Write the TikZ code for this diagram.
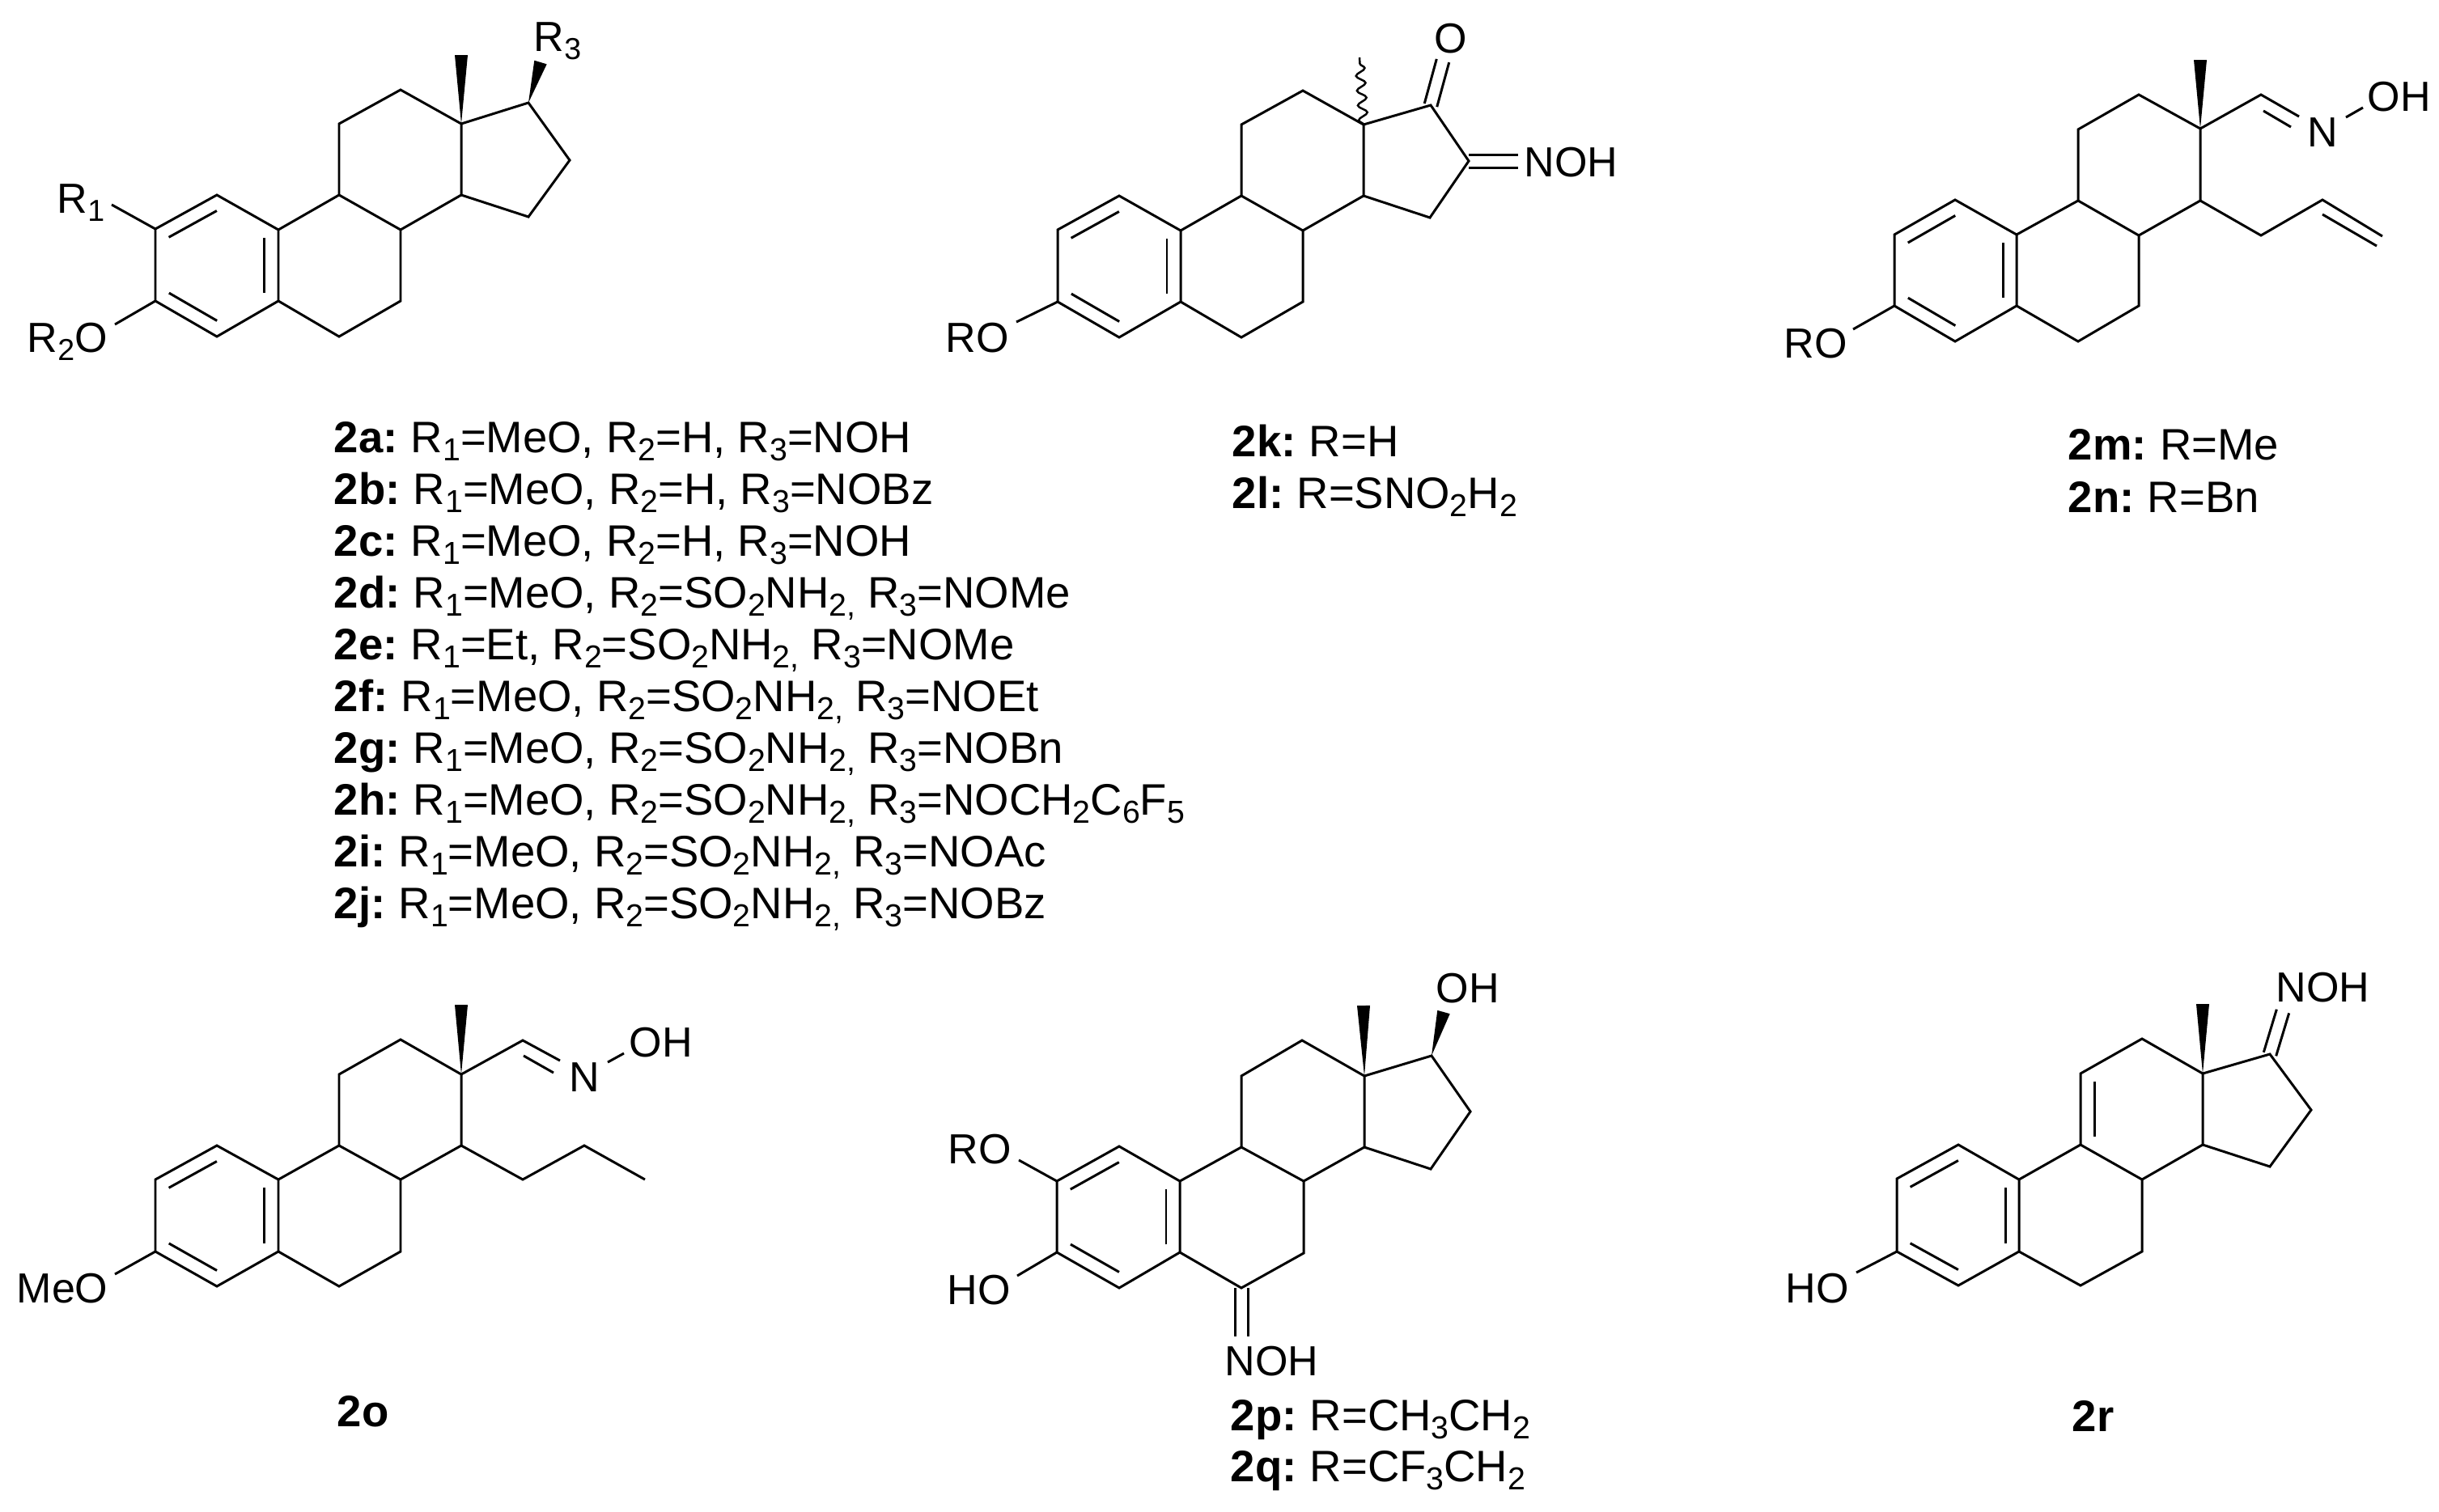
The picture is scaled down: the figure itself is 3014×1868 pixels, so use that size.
\documentclass[tikz,border=0pt]{standalone}
\usepackage{fontspec}
\usetikzlibrary{calc,decorations.pathmorphing}
\setmainfont{Liberation Sans}
\tikzset{
  bond/.style={line width=0.85pt,line join=miter},
  wavybond/.style={line width=0.7pt,decorate,decoration={snake,amplitude=1.6pt,segment length=5.2pt}},
  atom/.style={anchor=base west,inner sep=0pt,font=\fontsize{14.8}{17}\selectfont},
  caption/.style={anchor=base west,inner sep=0pt,font=\fontsize{15.5}{18}\selectfont},
}
\newcommand{\sbs}[1]{\raisebox{-0.2em}{\fontsize{\the\dimexpr.72em\relax}{12}\selectfont #1}}
\newcommand{\cmpd}[1]{\textbf{#1:}\hspace{0.3em}}
% inner line of a double bond, on the left of a->b
\newcommand{\innerbond}[2]{\draw[bond] ($(#1)!.11!(#2)!.17cm!90:(#2)$) -- ($(#2)!.11!(#1)!.17cm!-90:(#1)$);}
% double bond going out of a ring
\newcommand{\exobond}[2]{\draw[bond] ($(#1)!.08cm!90:(#2)$) -- ($(#2)!.08cm!-90:(#1)$);
  \draw[bond] ($(#1)!.08cm!-90:(#2)$) -- ($(#2)!.08cm!90:(#1)$);}
\newcommand{\wedgebond}[2]{\fill[black] (#1) -- ($(#2)!.08cm!90:(#1)$) -- ($(#2)!.08cm!-90:(#1)$) -- cycle;}
% rings A, B, C
\newcommand{\skeleton}[1]{
  \draw[bond] (#1c1) -- (#1c2) -- (#1c3) -- (#1c4) -- (#1c5) -- (#1c10) -- cycle;
  \draw[bond] (#1c5) -- (#1c6) -- (#1c7) -- (#1c8) -- (#1c9) -- (#1c10);
  \draw[bond] (#1c9) -- (#1c11) -- (#1c12) -- (#1c13) -- (#1c14) -- (#1c8);
  \innerbond{#1c1}{#1c2}
  \innerbond{#1c3}{#1c4}
  \innerbond{#1c5}{#1c10}
}

\begin{document}
\begin{tikzpicture}[x=0.01cm,y=-0.01cm]
\useasboundingbox (0,0) rectangle (3014,1868);

%compounds 2a-2j
\coordinate (ac1) at (268,241); \coordinate (ac2) at (192,283); \coordinate (ac3) at (192,372);
\coordinate (ac4) at (268,416); \coordinate (ac5) at (344,372); \coordinate (ac6) at (419,416);
\coordinate (ac7) at (495,372); \coordinate (ac8) at (495,284); \coordinate (ac9) at (419,241);
\coordinate (ac10) at (344,284); \coordinate (ac11) at (419,153); \coordinate (ac12) at (495,111);
\coordinate (ac13) at (570,153); \coordinate (ac14) at (570,241); \coordinate (ac15) at (653,268);
\coordinate (ac16) at (704,198); \coordinate (ac17) at (653,127);
\coordinate (ame) at (570,68); \coordinate (awr) at (668,77);
\coordinate (ar1) at (138,253); \coordinate (ao) at (142,401);
\skeleton{a}
\draw[bond] (ac13) -- (ac17) -- (ac16) -- (ac15) -- (ac14);
\wedgebond{ac13}{ame}
\wedgebond{ac17}{awr}
\draw[bond] (ac2) -- (ar1);
\draw[bond] (ac3) -- (ao);
\node[atom] (alabr1) at (70,263) {R\sbs{1}};
\node[atom] (alabr2) at (33,435) {R\sbs{2}O};
\node[atom] (alabr3) at (659,63) {R\sbs{3}};

%compounds 2k, 2l
\coordinate (kc1) at (1383,242); \coordinate (kc2) at (1307,284); \coordinate (kc3) at (1307,373);
\coordinate (kc4) at (1383,417); \coordinate (kc5) at (1459,373); \coordinate (kc6) at (1534,417);
\coordinate (kc7) at (1610,373); \coordinate (kc8) at (1610,285); \coordinate (kc9) at (1534,242);
\coordinate (kc10) at (1459,285); \coordinate (kc11) at (1534,154); \coordinate (kc12) at (1610,112);
\coordinate (kc13) at (1685,154); \coordinate (kc14) at (1685,242); \coordinate (kc15) at (1767,269);
\coordinate (kc16) at (1815,199); \coordinate (kc17) at (1768,130);
\coordinate (kme) at (1680,71); \coordinate (kco) at (1783,75); \coordinate (kcn) at (1876,199);
\coordinate (ko) at (1256,398);
\skeleton{k}
\draw[bond] (kc13) -- (kc17) -- (kc16) -- (kc15) -- (kc14);
\draw[wavybond] (kc13) -- (kme);
\exobond{kc17}{kco}
\exobond{kc16}{kcn}
\draw[bond] (kc3) -- (ko);
\node[atom] (klabo) at (1772,65) {O};
\node[atom] (klabn) at (1883,218) {NOH};
\node[atom] (klabr) at (1168,435) {RO};

%compounds 2m, 2n
\coordinate (mc1) at (2416,247); \coordinate (mc2) at (2341,290); \coordinate (mc3) at (2341,378);
\coordinate (mc4) at (2416,422); \coordinate (mc5) at (2492,378); \coordinate (mc6) at (2568,422);
\coordinate (mc7) at (2643,378); \coordinate (mc8) at (2643,291); \coordinate (mc9) at (2568,248);
\coordinate (mc10) at (2492,290); \coordinate (mc11) at (2568,160); \coordinate (mc12) at (2643,117);
\coordinate (mc13) at (2719,159); \coordinate (mc14) at (2719,248);
\coordinate (mme) at (2719,74); \coordinate (mcn) at (2794,117); \coordinate (mn) at (2841,144);
\coordinate (mina) at (2797,137); \coordinate (minb) at (2831,157);
\coordinate (mno) at (2899,145); \coordinate (moh) at (2920,133);
\coordinate (mal1) at (2794,291); \coordinate (mal2) at (2870,247); \coordinate (mal3) at (2944,292);
\coordinate (mala) at (2870,265); \coordinate (malb) at (2937,304);
\coordinate (mo) at (2290,407);
\skeleton{m}
\wedgebond{mc13}{mme}
\draw[bond] (mc13) -- (mcn) -- (mn);
\draw[bond] (mina) -- (minb);
\draw[bond] (mno) -- (moh);
\draw[bond] (mc14) -- (mal1) -- (mal2) -- (mal3);
\draw[bond] (mala) -- (malb);
\draw[bond] (mc3) -- (mo);
\node[atom] (mlabn) at (2851,181) {N};
\node[atom] (mlabo) at (2925,137) {OH};
\node[atom] (mlabr) at (2204,442) {RO};

%compound 2o
\coordinate (oc1) at (268,1416); \coordinate (oc2) at (192,1458); \coordinate (oc3) at (192,1547);
\coordinate (oc4) at (268,1590); \coordinate (oc5) at (344,1547); \coordinate (oc6) at (419,1590);
\coordinate (oc7) at (495,1547); \coordinate (oc8) at (495,1458); \coordinate (oc9) at (419,1416);
\coordinate (oc10) at (344,1458); \coordinate (oc11) at (419,1328); \coordinate (oc12) at (495,1285);
\coordinate (oc13) at (570,1328); \coordinate (oc14) at (570,1416);
\coordinate (ome) at (570,1242); \coordinate (ocn) at (646,1286); \coordinate (on) at (692,1311);
\coordinate (oina) at (647,1305); \coordinate (oinb) at (684,1326);
\coordinate (ono) at (751,1313); \coordinate (ooh) at (771,1302);
\coordinate (opr1) at (646,1458); \coordinate (opr2) at (722,1416); \coordinate (opr3) at (797,1458);
\coordinate (oo) at (142,1575);
\skeleton{o}
\wedgebond{oc13}{ome}
\draw[bond] (oc13) -- (ocn) -- (on);
\draw[bond] (oina) -- (oinb);
\draw[bond] (ono) -- (ooh);
\draw[bond] (oc14) -- (opr1) -- (opr2) -- (opr3);
\draw[bond] (oc3) -- (oo);
\node[atom] (olabn) at (703,1349) {N};
\node[atom] (olabo) at (777,1306) {OH};
\node[atom] (olabr) at (20,1610) {MeO};

%compounds 2p, 2q
\coordinate (pc1) at (1383,1417); \coordinate (pc2) at (1306,1460); \coordinate (pc3) at (1306,1548);
\coordinate (pc4) at (1383,1592); \coordinate (pc5) at (1458,1548); \coordinate (pc6) at (1534,1592);
\coordinate (pc7) at (1611,1549); \coordinate (pc8) at (1611,1460); \coordinate (pc9) at (1534,1418);
\coordinate (pc10) at (1458,1460); \coordinate (pc11) at (1534,1330); \coordinate (pc12) at (1609,1286);
\coordinate (pc13) at (1686,1330); \coordinate (pc14) at (1686,1418); \coordinate (pc15) at (1768,1445);
\coordinate (pc16) at (1817,1374); \coordinate (pc17) at (1769,1305);
\coordinate (pme) at (1685,1243); \coordinate (pwo) at (1784,1251);
\coordinate (pn) at (1534,1652); \coordinate (pro) at (1259,1434); \coordinate (pho) at (1257,1577);
\skeleton{p}
\draw[bond] (pc13) -- (pc17) -- (pc16) -- (pc15) -- (pc14);
\wedgebond{pc13}{pme}
\wedgebond{pc17}{pwo}
\exobond{pc6}{pn}
\draw[bond] (pc2) -- (pro);
\draw[bond] (pc3) -- (pho);
\node[atom] (plabo) at (1774,1239) {OH};
\node[atom] (plabr) at (1171,1438) {RO};
\node[atom] (plabh) at (1170,1612) {HO};
\node[atom] (plabn) at (1513,1700) {NOH};

%compound 2r
\coordinate (rc1) at (2420,1415); \coordinate (rc2) at (2344,1457); \coordinate (rc3) at (2344,1547);
\coordinate (rc4) at (2420,1589); \coordinate (rc5) at (2495,1547); \coordinate (rc6) at (2571,1589);
\coordinate (rc7) at (2647,1547); \coordinate (rc8) at (2647,1458); \coordinate (rc9) at (2571,1415);
\coordinate (rc10) at (2495,1458); \coordinate (rc11) at (2571,1327); \coordinate (rc12) at (2647,1284);
\coordinate (rc13) at (2722,1327); \coordinate (rc14) at (2722,1415); \coordinate (rc15) at (2805,1442);
\coordinate (rc16) at (2856,1372); \coordinate (rc17) at (2805,1303);
\coordinate (rme) at (2722,1241); \coordinate (rn) at (2821,1250); \coordinate (rho) at (2294,1573);
\skeleton{r}
\draw[bond] (rc13) -- (rc17) -- (rc16) -- (rc15) -- (rc14);
\innerbond{rc11}{rc9}
\wedgebond{rc13}{rme}
\exobond{rc17}{rn}
\draw[bond] (rc3) -- (rho);
\node[atom] (rlabn) at (2812,1238) {NOH};
\node[atom] (rlabh) at (2206,1610) {HO};

%captions
\node[caption] (l2a) at (412,559) {\cmpd{2a}R\sbs{1}=MeO, R\sbs{2}=H, R\sbs{3}=NOH};
\node[caption] (l2b) at (412,623) {\cmpd{2b}R\sbs{1}=MeO, R\sbs{2}=H, R\sbs{3}=NOBz};
\node[caption] (l2c) at (412,687) {\cmpd{2c}R\sbs{1}=MeO, R\sbs{2}=H, R\sbs{3}=NOH};
\node[caption] (l2d) at (412,751) {\cmpd{2d}R\sbs{1}=MeO, R\sbs{2}=SO\sbs{2}NH\sbs{2,} R\sbs{3}=NOMe};
\node[caption] (l2e) at (412,815) {\cmpd{2e}R\sbs{1}=Et, R\sbs{2}=SO\sbs{2}NH\sbs{2,} R\sbs{3}=NOMe};
\node[caption] (l2f) at (412,879) {\cmpd{2f}R\sbs{1}=MeO, R\sbs{2}=SO\sbs{2}NH\sbs{2,} R\sbs{3}=NOEt};
\node[caption] (l2g) at (412,943) {\cmpd{2g}R\sbs{1}=MeO, R\sbs{2}=SO\sbs{2}NH\sbs{2,} R\sbs{3}=NOBn};
\node[caption] (l2h) at (412,1007) {\cmpd{2h}R\sbs{1}=MeO, R\sbs{2}=SO\sbs{2}NH\sbs{2,} R\sbs{3}=NOCH\sbs{2}C\sbs{6}F\sbs{5}};
\node[caption] (l2i) at (412,1071) {\cmpd{2i}R\sbs{1}=MeO, R\sbs{2}=SO\sbs{2}NH\sbs{2,} R\sbs{3}=NOAc};
\node[caption] (l2j) at (412,1135) {\cmpd{2j}R\sbs{1}=MeO, R\sbs{2}=SO\sbs{2}NH\sbs{2,} R\sbs{3}=NOBz};
\node[caption] (l2k) at (1522,564) {\cmpd{2k}R=H};
\node[caption] (l2l) at (1522,628) {\cmpd{2l}R=SNO\sbs{2}H\sbs{2}};
\node[caption] (l2m) at (2555,568) {\cmpd{2m}R=Me};
\node[caption] (l2n) at (2555,633) {\cmpd{2n}R=Bn};
\node[caption] (l2o) at (416,1763) {\textbf{2o}};
\node[caption] (l2p) at (1520,1768) {\cmpd{2p}R=CH\sbs{3}CH\sbs{2}};
\node[caption] (l2q) at (1520,1831) {\cmpd{2q}R=CF\sbs{3}CH\sbs{2}};
\node[caption] (l2r) at (2560,1769) {\textbf{2r}};
\end{tikzpicture}
\end{document}
